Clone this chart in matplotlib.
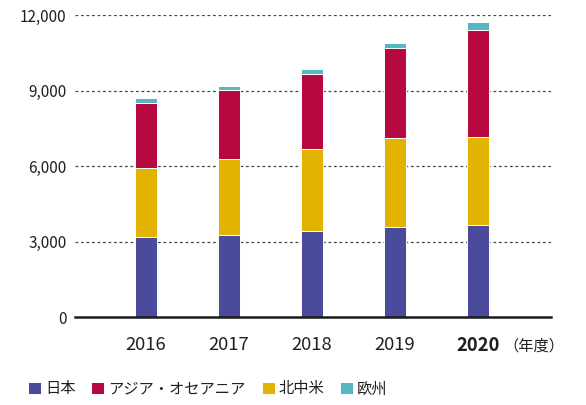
import numpy as np
import matplotlib
matplotlib.use('Agg')
import matplotlib.pyplot as plt

plt.rcParams['font.family'] = ['Noto Sans CJK JP', 'DejaVu Sans']

# ---------------------- データ ----------------------
years = ['2016', '2017', '2018', '2019', '2020']
japan = [3160, 3263, 3422, 3557, 3661]
americas = [2769, 3000, 3251, 3542, 3502]
asia_oceania = [2575, 2746, 2997, 3593, 4258]
europe = [187, 183, 187, 187, 294]

series = [
    ('日本', japan, '#4a4b9b'),
    ('北中米', americas, '#e0b400'),
    ('アジア・オセアニア', asia_oceania, '#b5093f'),
    ('欧州', europe, '#56b6c4'),
]
yticks = [0, 3000, 6000, 9000, 12000]
text_color = '#231f20'

fig = plt.figure(figsize=(5.86, 4.05), dpi=100)
ax = fig.add_axes([75 / 586, 1 - 317 / 405, 476 / 586, 302 / 405])

# ---------------------- 積み上げ棒 ----------------------
x = np.arange(len(years))
bottom = np.zeros(len(years))
handles = {}
for name, vals, color in series:
    b = ax.bar(x, vals, width=0.265, bottom=bottom, color=color,
               edgecolor='white', linewidth=0.7, zorder=3)
    handles[name] = b
    bottom += np.array(vals)

# ---------------------- 軸 ----------------------
ax.set_xlim(-0.855, 4.88)
ax.set_ylim(0, 12000)
ax.set_yticks(yticks)
ax.set_yticklabels([f'{v:,}' for v in yticks])
for v in yticks[1:]:
    ax.axhline(v, color='#444444', linewidth=0.9, linestyle=(0, (2.2, 2.2)), zorder=1)

for s in ['top', 'right', 'left']:
    ax.spines[s].set_visible(False)
ax.spines['bottom'].set_color('#1a1a1a')
ax.spines['bottom'].set_linewidth(1.8)
ax.spines['bottom'].set_zorder(4)

ax.set_xticks(x)
ax.set_xticklabels(years)
ax.tick_params(axis='x', length=0, pad=13.5, labelsize=13.3, colors=text_color)
ax.tick_params(axis='y', length=0, pad=6, labelsize=11, colors=text_color)
ax.get_xticklabels()[-1].set_fontweight('bold')

fig.text(503 / 586, 1 - 346 / 405, '（年度）', fontsize=11, color=text_color,
         ha='left', va='center')

# ---------------------- 凡例 ----------------------
order = ['日本', 'アジア・オセアニア', '北中米', '欧州']
fig.legend([handles[n] for n in order], order, ncol=4, frameon=False,
           loc='center left', bbox_to_anchor=(22 / 586, 1 - 389 / 405),
           fontsize=11, handlelength=0.85, handleheight=0.85,
           handletextpad=0.25, columnspacing=1.05, labelcolor=text_color,
           borderaxespad=0)

fig.savefig('out.png', dpi=100)
